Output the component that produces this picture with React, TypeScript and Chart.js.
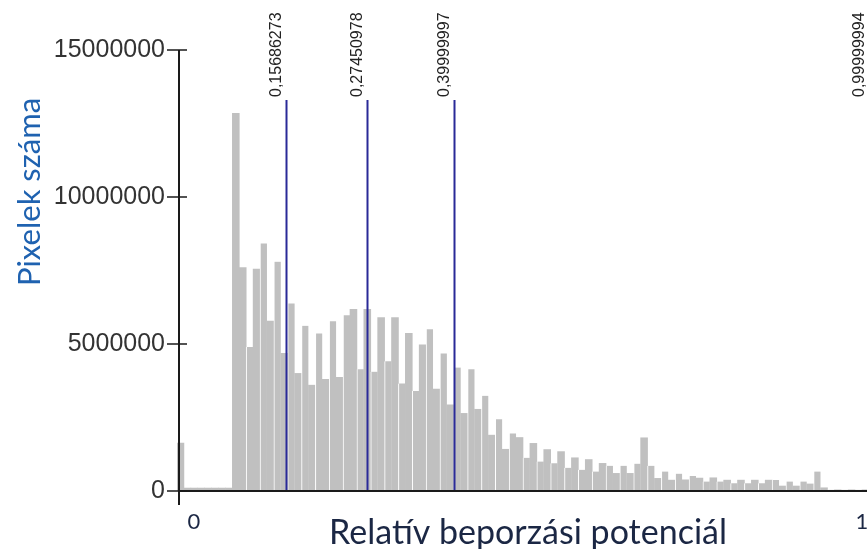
import React, { useEffect, useRef } from "react";
import { Chart, registerables } from "chart.js";

Chart.register(...registerables);

// Histogram: 100 bins of width 0.01 on 0..1
const binWidth = 0.01;
const pixelCounts = [
  1630000, 100000, 100000, 100000, 100000, 100000, 100000, 100000, 12850000, 7600000,
  4900000, 7550000, 8420000, 5780000, 7800000, 4680000, 6380000, 4000000, 5620000, 3600000,
  5360000, 3800000, 5770000, 3870000, 5980000, 6180000, 4140000, 6180000, 4060000, 5900000,
  4410000, 5900000, 3660000, 5360000, 3400000, 4970000, 5500000, 3470000, 4680000, 2930000,
  4200000, 2640000, 4140000, 2780000, 3240000, 1900000, 2440000, 1420000, 1960000, 1820000,
  1130000, 1620000, 1000000, 1410000, 940000, 1340000, 790000, 1130000, 720000, 1070000,
  660000, 940000, 860000, 600000, 860000, 600000, 930000, 1810000, 860000, 430000,
  660000, 370000, 590000, 380000, 510000, 440000, 320000, 450000, 320000, 370000,
  260000, 370000, 260000, 370000, 260000, 370000, 370000, 170000, 320000, 170000,
  320000, 240000, 660000, 110000, 40000, 40000, 40000, 40000, 40000, 40000,
];
const binCenters = pixelCounts.map((_, i) => (i + 0.5) * binWidth);

const thresholds = [0.15686273, 0.27450978, 0.39999997, 0.99999994];
const thresholdLabels = ["0,15686273", "0,27450978", "0,39999997", "0,99999994"];

const yTickValues = [0, 5000000, 10000000, 15000000];
const xTickValues = [0, 1];
const xTickLabels = ["0", "1"];

const xTitle = "Relatív beporzási potenciál";
const yTitle = "Pixelek száma";

const overlayPlugin = {
  id: "overlay",
  afterDatasetsDraw(chart: any) {
    const { ctx, chartArea } = chart;
    const xs = chart.scales.x;
    const ys = chart.scales.y;
    const axisX = chartArea.left + 2;
    const y0 = ys.getPixelForValue(0);
    const yTop = ys.getPixelForValue(yTickValues[yTickValues.length - 1]);
    ctx.save();

    // threshold lines
    const lineTop = chartArea.top + 50;
    ctx.strokeStyle = "#2a2a98";
    ctx.lineWidth = 2;
    thresholds.forEach((t) => {
      const px = Math.round(xs.getPixelForValue(t)) + 0.5;
      ctx.beginPath();
      ctx.moveTo(px, lineTop);
      ctx.lineTo(px, y0);
      ctx.stroke();
    });
    // threshold labels
    ctx.fillStyle = "#222";
    ctx.font = "16px 'Liberation Sans', Arial, sans-serif";
    ctx.textAlign = "left";
    ctx.textBaseline = "alphabetic";
    thresholds.forEach((t, i) => {
      const px = xs.getPixelForValue(t);
      ctx.save();
      ctx.translate(px - 5, lineTop - 3);
      ctx.rotate(-Math.PI / 2);
      ctx.fillText(thresholdLabels[i], 0, 0);
      ctx.restore();
    });

    // axes
    ctx.strokeStyle = "#1a1a1a";
    ctx.lineWidth = 2;
    ctx.beginPath();
    ctx.moveTo(axisX, yTop);
    ctx.lineTo(axisX, y0 + 14);
    ctx.stroke();
    ctx.beginPath();
    ctx.moveTo(axisX, y0);
    ctx.lineTo(chartArea.right, y0);
    ctx.stroke();
    ctx.lineWidth = 1.5;
    yTickValues.forEach((v) => {
      const py = ys.getPixelForValue(v);
      ctx.beginPath();
      ctx.moveTo(axisX - 12, py);
      ctx.lineTo(axisX + 8, py);
      ctx.stroke();
    });

    // x tick labels
    ctx.fillStyle = "#1b2744";
    ctx.font = "22px Lato, 'Open Sans', sans-serif";
    ctx.textAlign = "center";
    ctx.textBaseline = "middle";
    const xOffsets = [17, -7];
    xTickValues.forEach((v, i) => {
      ctx.fillText(xTickLabels[i], xs.getPixelForValue(v) + xOffsets[i], y0 + 31);
    });

    // x title
    ctx.font = "34px Lato, 'Open Sans', sans-serif";
    ctx.textBaseline = "alphabetic";
    ctx.fillText(xTitle, 528, y0 + 53);

    // y title
    ctx.save();
    ctx.fillStyle = "#1f62b0";
    ctx.font = "31px Lato, 'Open Sans', sans-serif";
    ctx.translate(40, 192);
    ctx.rotate(-Math.PI / 2);
    ctx.textAlign = "center";
    ctx.fillText(yTitle, 0, 0);
    ctx.restore();

    ctx.restore();
  },
};

export default function App() {
  const ref = useRef<HTMLCanvasElement | null>(null);
  useEffect(() => {
    if (!ref.current) return;
    const chart = new Chart(ref.current, {
      type: "bar",
      data: {
        datasets: [
          {
            data: binCenters.map((x, i) => ({ x, y: pixelCounts[i] })),
            backgroundColor: "#c0c0c0",
            borderColor: "#ffffff",
            borderWidth: (c: any) => ({
              left: c.dataIndex >= 10 && c.dataIndex % 2 === 0 ? 1 : 0,
              right: 0,
              top: 0,
              bottom: 0,
            }),
            borderSkipped: false,
            barPercentage: 1,
            categoryPercentage: 1,
          },
        ],
      },
      options: {
        responsive: false,
        animation: false,
        devicePixelRatio: 1,
        layout: { padding: { left: 0, right: 0, top: 50, bottom: 58 } },
        plugins: { legend: { display: false }, tooltip: { enabled: false } },
        scales: {
          x: {
            type: "linear",
            min: 0,
            max: 1,
            offset: false,
            display: false,
            grid: { offset: false },
          },
          y: {
            type: "linear",
            min: 0,
            max: 15000000,
            afterFit: (s: any) => {
              s.width = 177;
            },
            afterBuildTicks: (s: any) => {
              s.ticks = yTickValues.map((v) => ({ value: v }));
            },
            ticks: {
              padding: 12,
              color: "#333",
              font: { family: "'Liberation Sans', Arial, sans-serif", size: 25 },
              callback: (v: any) => String(v),
            },
            grid: { display: false, drawTicks: false },
            border: { display: false },
          },
        },
      },
      plugins: [overlayPlugin],
    });
    return () => chart.destroy();
  }, []);
  return (
    <div
      style={{
        position: "fixed",
        left: 0,
        top: 0,
        width: 867,
        height: 549,
        overflow: "hidden",
        background: "#fff",
      }}
    >
      <canvas ref={ref} width={869} height={549} style={{ display: "block" }} />
    </div>
  );
}
